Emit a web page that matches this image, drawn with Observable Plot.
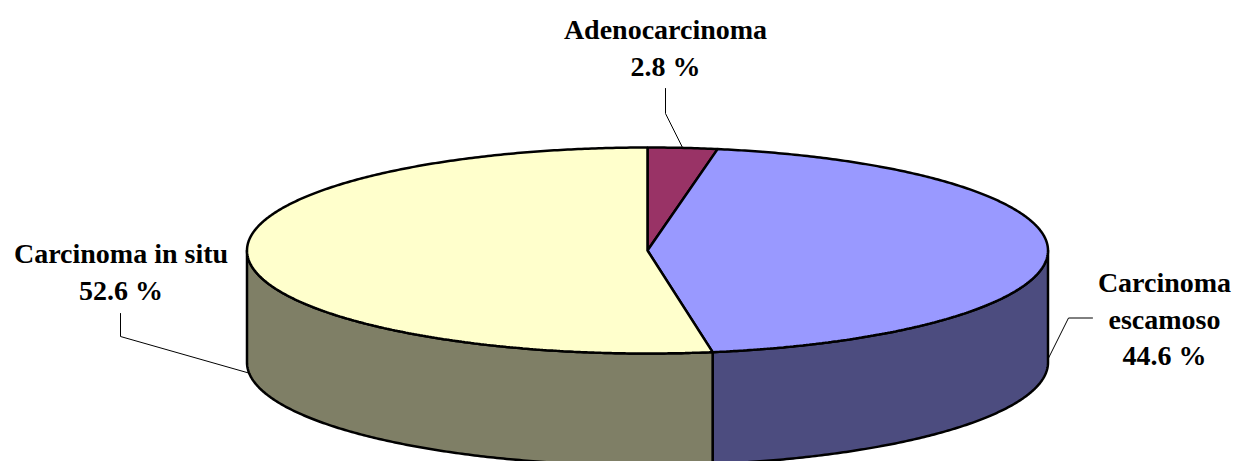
<!DOCTYPE html>
<html>
<head>
<meta charset="utf-8">
<script src="https://cdn.jsdelivr.net/npm/d3@7"></script>
<script src="https://cdn.jsdelivr.net/npm/@observablehq/plot@0.6"></script>
<style>
  html, body { margin: 0; padding: 0; background: #ffffff; }
  #chart svg text { font-family: "Liberation Serif", "Times New Roman", "DejaVu Serif", serif; }
</style>
</head>
<body>
<div id="chart"></div>
<script>
// ---- Data ----
const categories = ["Adenocarcinoma", "Carcinoma escamoso", "Carcinoma in situ"];
const percents = [2.8, 44.6, 52.6];
const labelTexts = ["Adenocarcinoma\n2.8 %", "Carcinoma\nescamoso\n44.6 %", "Carcinoma in situ\n52.6 %"];
const topColors = ["#993366", "#9999FF", "#FFFFCC"];
const sideColors = ["#4C1933", "#4C4C7F", "#7F7F66"];

// ---- Layout (pixels) ----
const W = 1249, H = 461;
const cx = 647, cy = 250, rx = 400.5, ry = 103, depth = 112;
const labelPos = [
  {x: 665, y: 45.5, lh: 1.32},
  {x: 1164, y: 316.5, lh: 1.30},
  {x: 120.5, y: 269.5, lh: 1.32}
];
// leader lines: label-side points, then drop onto slice at its mid-angle
const leaderStart = [
  [[665, 88], [665, 113]],
  [[1092, 317.5], [1068, 317.5]],
  [[120, 313], [120, 336]]
];
const leaderDrop = [0, 108, 114];
const FONT = "Liberation Serif";

// ---- Geometry from data ----
const total = d3.sum(percents);
let acc = 0;
const slices = percents.map((p, i) => {
  const a0 = acc / total * 2 * Math.PI;
  acc += p;
  const a1 = acc / total * 2 * Math.PI;
  return {i, a0, a1, mid: (a0 + a1) / 2};
});
const px = t => cx + rx * Math.sin(t);
const py = t => cy - ry * Math.cos(t);
function arc(t0, t1, off = 0) {
  const n = Math.max(2, Math.ceil(Math.abs(t1 - t0) / (Math.PI / 360)));
  const pts = [];
  for (let k = 0; k <= n; k++) {
    const t = t0 + (t1 - t0) * k / n;
    pts.push({x: px(t), y: py(t) + off});
  }
  return pts;
}

const marks = [];
// side faces (front half only)
for (const s of slices) {
  const t0 = Math.max(s.a0, Math.PI / 2), t1 = Math.min(s.a1, 3 * Math.PI / 2);
  if (t1 <= t0) continue;
  const pts = [...arc(t0, t1), ...arc(t1, t0, depth)];
  pts.push(pts[0]);
  marks.push(Plot.line(pts, {x: "x", y: "y", fill: sideColors[s.i], stroke: "#000", strokeWidth: 2.5, strokeLinejoin: "round", curve: "linear"}));
}
// top faces
for (const s of slices) {
  const pts = [{x: cx, y: cy}, ...arc(s.a0, s.a1), {x: cx, y: cy}];
  marks.push(Plot.line(pts, {x: "x", y: "y", fill: topColors[s.i], stroke: "#000", strokeWidth: 2.5, strokeLinejoin: "miter", curve: "linear"}));
}
// leader lines
for (const s of slices) {
  const pts = leaderStart[s.i].map(([x, y]) => ({x, y}));
  pts.push({x: px(s.mid), y: py(s.mid) + leaderDrop[s.i]});
  marks.push(Plot.line(pts, {x: "x", y: "y", stroke: "#000", strokeWidth: 1, curve: "linear"}));
}
// labels
for (const s of slices) {
  marks.push(Plot.text([labelTexts[s.i]], {
    x: () => labelPos[s.i].x, y: () => labelPos[s.i].y, text: d => d,
    fontFamily: FONT, fontSize: 28, fontWeight: "bold", fill: "#000", lineHeight: labelPos[s.i].lh,
    textAnchor: "middle", lineAnchor: "middle"
  }));
}

const chart = Plot.plot({
  width: W, height: H,
  margin: 0,
  x: {domain: [0, W], range: [0, W], axis: null},
  y: {domain: [0, H], range: [0, H], axis: null},
  style: {fontFamily: FONT, background: "#ffffff"},
  marks
});
document.getElementById("chart").appendChild(chart);
</script>
</body>
</html>
